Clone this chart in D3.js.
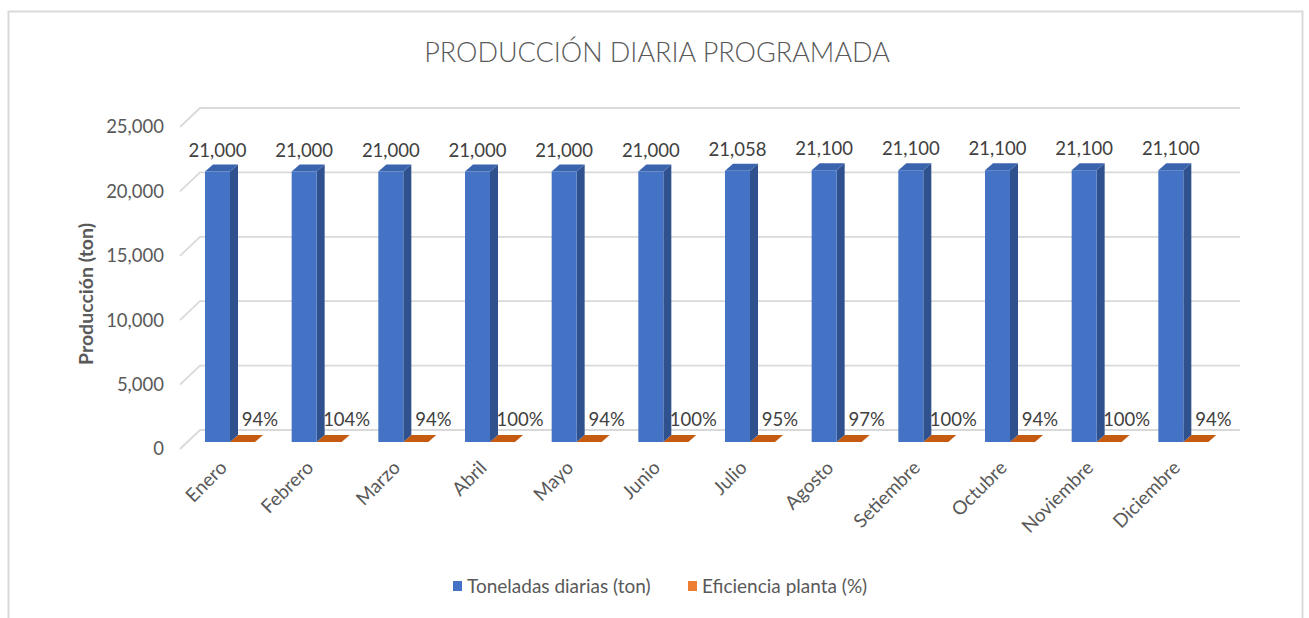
<!DOCTYPE html>
<html>
<head>
<meta charset="utf-8">
<script src="https://cdn.jsdelivr.net/npm/d3@7"></script>
<style>
  body { margin: 0; background: #fff; }
  text { font-family: Lato, "Open Sans", sans-serif; }
</style>
</head>
<body>
<svg id="chart"></svg>
<script>
// Data
const months = ["Enero", "Febrero", "Marzo", "Abril", "Mayo", "Junio",
  "Julio", "Agosto", "Setiembre", "Octubre", "Noviembre", "Diciembre"];
const toneladas = [21000, 21000, 21000, 21000, 21000, 21000,
  21058, 21100, 21100, 21100, 21100, 21100];
const eficiencia = [0.94, 1.04, 0.94, 1.00, 0.94, 1.00,
  0.95, 0.97, 1.00, 0.94, 1.00, 0.94];
const yTicks = [0, 5000, 10000, 15000, 20000, 25000];
const seriesNames = ["Toneladas diarias (ton)", "Eficiencia planta (%)"];

const width = 1309;
const height = 618;

const svg = d3.select("#chart")
  .attr("width", width)
  .attr("height", height);

// chart frame
svg.append("rect")
  .attr("x", 8.5).attr("y", 11.5)
  .attr("width", 1294).attr("height", 640)
  .attr("fill", "#fff")
  .attr("stroke", "#d9d9d9")
  .attr("stroke-width", 2);

// title
svg.append("text")
  .attr("x", 657).attr("y", 62)
  .attr("text-anchor", "middle")
  .attr("fill", "#595959")
  .style("font-size", "27px")
  .style("font-weight", 300)
  .text("PRODUCCIÓN DIARIA PROGRAMADA");

// scales on the back wall
const x = d3.scaleBand().domain(months).range([200, 1240]);
const y = d3.scaleLinear().domain([0, 25000]).range([430, 108]);

// 3D offsets
const wallDx = -20, wallDy = 19;   // back wall -> axis labels plane
const barDx = -13, barDy = 12;     // back wall -> bar front plane
const depthX = 8, depthY = -7;     // bar depth
const barW = 25;

// gridlines (back wall + side diagonal)
const grid = svg.append("g");
yTicks.forEach(t => {
  grid.append("path")
    .attr("d", `M${200 + wallDx},${y(t) + wallDy}L200,${y(t)}L1240,${y(t)}`)
    .attr("fill", "none")
    .attr("stroke", "#d9d9d9")
    .attr("stroke-width", 1.8);
});

// y tick labels
const fmt = d3.format(",");
svg.append("g").selectAll("text")
  .data(yTicks)
  .enter()
  .append("text")
  .attr("x", 164)
  .attr("y", d => y(d) + wallDy)
  .attr("dy", "0.35em")
  .attr("text-anchor", "end")
  .attr("fill", "#595959")
  .style("font-size", "18.5px")
  .text(d => fmt(d));

// y axis title
svg.append("text")
  .attr("transform", "translate(93,294) rotate(-90)")
  .attr("text-anchor", "middle")
  .attr("fill", "#595959")
  .style("font-size", "19.5px")
  .style("font-weight", "bold")
  .text("Producción (ton)");

// draw a 3D column: front, side, top
function column(g, x0, v, front, side, top) {
  const yb = y(0) + barDy;
  const yt = y(v) + barDy;
  const x1 = x0 + barW;
  g.append("path")
    .attr("d", `M${x1},${yb}L${x1 + depthX},${yb + depthY}L${x1 + depthX},${yt + depthY}L${x1},${yt}Z`)
    .attr("fill", side);
  g.append("path")
    .attr("d", `M${x0},${yt}L${x0 + depthX},${yt + depthY}L${x1 + depthX},${yt + depthY}L${x1},${yt}Z`)
    .attr("fill", top);
  g.append("rect")
    .attr("x", x0).attr("y", yt)
    .attr("width", barW).attr("height", Math.max(0, yb - yt))
    .attr("fill", front);
}

const bars = svg.append("g");
months.forEach((m, i) => {
  const bx = x(m) + 18 + barDx;
  // eficiencia is a fraction, practically zero on this axis
  column(bars, bx + barW, eficiencia[i], "#ED7D31", "#B8571A", "#C55A11");
  column(bars, bx, toneladas[i], "#4472C4", "#2F528F", "#3B64AE");
});

// data labels
const pct = d3.format(".0%");
svg.append("g").selectAll("text")
  .data(months)
  .enter()
  .append("text")
  .attr("x", d => x(d) + 18 + barDx + barW / 2)
  .attr("y", (d, i) => y(toneladas[i]) + barDy - 15)
  .attr("text-anchor", "middle")
  .attr("fill", "#404040")
  .style("font-size", "18.5px")
  .text((d, i) => fmt(toneladas[i]));

svg.append("g").selectAll("text")
  .data(months)
  .enter()
  .append("text")
  .attr("x", d => x(d) + 60)
  .attr("y", (d, i) => y(eficiencia[i]) + barDy - 16)
  .attr("text-anchor", "middle")
  .attr("fill", "#404040")
  .style("font-size", "18.5px")
  .text((d, i) => pct(eficiencia[i]));

// category labels
svg.append("g").selectAll("text")
  .data(months)
  .enter()
  .append("text")
  .attr("transform", d => `translate(${x(d) + 28},${469}) rotate(-45)`)
  .attr("text-anchor", "end")
  .attr("fill", "#595959")
  .style("font-size", "19px")
  .text(d => d);

// legend
const legend = svg.append("g");
const legendX = [453, 688];
const legendColors = ["#4472C4", "#ED7D31"];
seriesNames.forEach((s, i) => {
  legend.append("rect")
    .attr("x", legendX[i]).attr("y", 581)
    .attr("width", 9).attr("height", 10)
    .attr("fill", legendColors[i]);
  legend.append("text")
    .attr("x", legendX[i] + 14).attr("y", 593)
    .attr("fill", "#595959")
    .style("font-size", "19px")
    .text(s);
});
</script>
</body>
</html>
